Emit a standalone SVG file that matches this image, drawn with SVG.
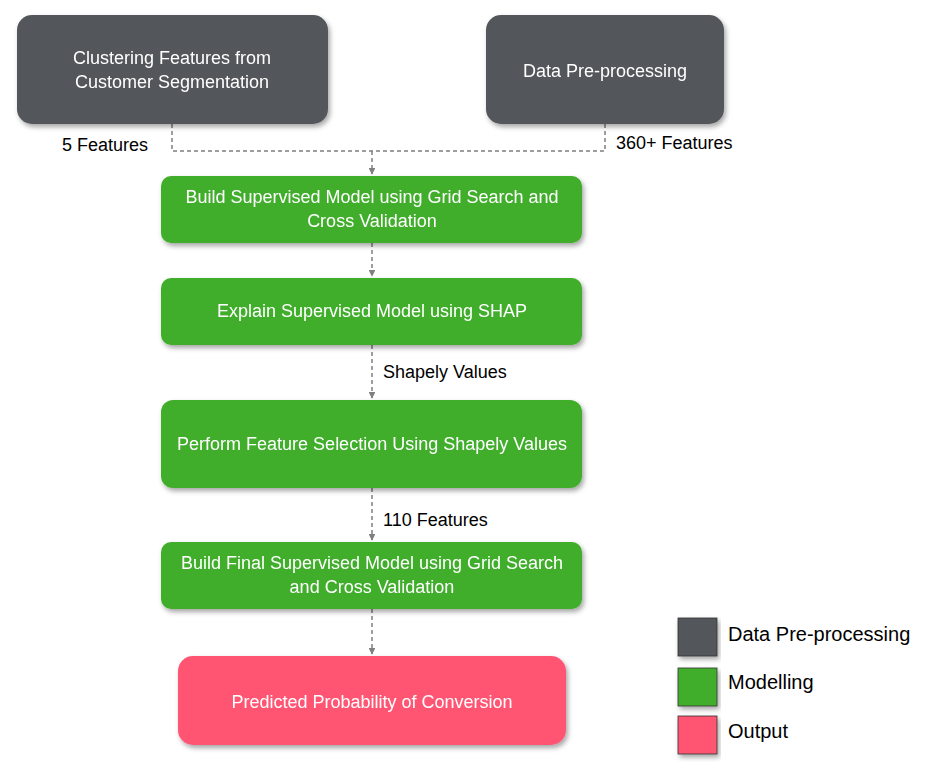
<svg xmlns="http://www.w3.org/2000/svg" width="929" height="762" viewBox="0 0 929 762">
<defs>
<filter id="sh" x="-10%" y="-10%" width="120%" height="130%">
<feDropShadow dx="2" dy="3" stdDeviation="2.5" flood-color="#000" flood-opacity="0.35"/>
</filter>
<marker id="arr" viewBox="0 0 10 10" refX="9" refY="5" markerWidth="4.5" markerHeight="4.5" orient="auto">
<path d="M0,0 L10,5 L0,10 z" fill="#7f7f7f"/>
</marker>
</defs>
<style>
.gray{fill:#53565a}
.green{fill:#40ae2c}
.pink{fill:#ff5473}
.bt{font-family:"Liberation Sans",Arial,sans-serif;font-size:18px;fill:#fff;text-anchor:middle}
.lbl{font-family:"Liberation Sans",Arial,sans-serif;font-size:18px;fill:#000}
.leg{font-family:"Liberation Sans",Arial,sans-serif;font-size:20px;fill:#000}
.con{fill:none;stroke:#7f7f7f;stroke-width:1.5;stroke-dasharray:4,3}
</style>
<rect width="929" height="762" fill="#fff"/>
<g id="connectors">
<path class="con" d="M172,124 V151 H605 V124"/>
<path class="con" d="M372,151 V174" marker-end="url(#arr)"/>
<path class="con" d="M372,243 V276" marker-end="url(#arr)"/>
<path class="con" d="M372,345 V398" marker-end="url(#arr)"/>
<path class="con" d="M372,488 V540" marker-end="url(#arr)"/>
<path class="con" d="M372,609 V654" marker-end="url(#arr)"/>
<text class="lbl" x="62" y="151">5 Features</text>
<text class="lbl" x="616" y="149">360+ Features</text>
<text class="lbl" x="383" y="378">Shapely Values</text>
<text class="lbl" x="383" y="526">110 Features</text>
</g>
<g id="n1" filter="url(#sh)">
<rect class="gray" x="17" y="15" width="311" height="109" rx="15"/>
<text class="bt" x="172" y="64">Clustering Features from</text>
<text class="bt" x="172" y="88">Customer Segmentation</text>
</g>
<g id="n2" filter="url(#sh)">
<rect class="gray" x="486" y="15" width="238" height="109" rx="15"/>
<text class="bt" x="605" y="77">Data Pre-processing</text>
</g>
<g id="n3" filter="url(#sh)">
<rect class="green" x="161" y="176" width="421" height="67" rx="10"/>
<text class="bt" x="372" y="203">Build Supervised Model using Grid Search and</text>
<text class="bt" x="372" y="227">Cross Validation</text>
</g>
<g id="n4" filter="url(#sh)">
<rect class="green" x="161" y="278" width="421" height="67" rx="10"/>
<text class="bt" x="372" y="317">Explain Supervised Model using SHAP</text>
</g>
<g id="n5" filter="url(#sh)">
<rect class="green" x="161" y="400" width="421" height="88" rx="12"/>
<text class="bt" x="372" y="450">Perform Feature Selection Using Shapely Values</text>
</g>
<g id="n6" filter="url(#sh)">
<rect class="green" x="161" y="542" width="421" height="67" rx="10"/>
<text class="bt" x="372" y="569">Build Final Supervised Model using Grid Search</text>
<text class="bt" x="372" y="593">and Cross Validation</text>
</g>
<g id="n7" filter="url(#sh)">
<rect class="pink" x="178" y="656" width="388" height="89" rx="15"/>
<text class="bt" x="372" y="708">Predicted Probability of Conversion</text>
</g>
<g id="legend">
<rect class="gray" x="678" y="618" width="39" height="38" stroke="#333" stroke-width="0.8" filter="url(#sh)"/>
<rect class="green" x="678" y="668" width="39" height="38" stroke="#333" stroke-width="0.8" filter="url(#sh)"/>
<rect class="pink" x="678" y="716" width="39" height="38" stroke="#333" stroke-width="0.8" filter="url(#sh)"/>
<text class="leg" x="728" y="641">Data Pre-processing</text>
<text class="leg" x="728" y="689">Modelling</text>
<text class="leg" x="728" y="738">Output</text>
</g>
</svg>
